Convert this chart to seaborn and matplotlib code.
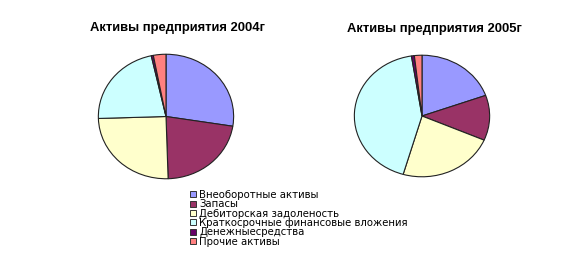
import matplotlib
matplotlib.use("Agg")
import matplotlib.pyplot as plt
import seaborn as sns

categories = ["Внеоборотные активы", "Запасы", "Дебиторская задоленость",
              "Краткосрочные финансовые вложения", "Денежныесредства", "Прочие активы"]
values_2004 = [27.5, 22.0, 25.0, 22.0, 0.5, 3.0]
values_2005 = [19.5, 12.0, 23.0, 43.0, 0.7, 1.8]
titles = ["Активы предприятия 2004г", "Активы предприятия 2005г"]
colors = ["#9999FF", "#993366", "#FFFFCC", "#CCFFFF", "#660066", "#FF8080"]

sns.set_theme(style="white")
plt.rcParams["font.family"] = ["DejaVu Sans"]
plt.rcParams["text.color"] = "black"

fig = plt.figure(figsize=(5.87, 2.65), dpi=100)
W, H = 587, 265

def px_axes(x0, y0, x1, y1):
    return fig.add_axes([x0 / W, (H - y1) / H, (x1 - x0) / W, (y1 - y0) / H])

ax1 = px_axes(97, 53, 235, 180)
ax2 = px_axes(353, 54, 491, 178)

wedges = None
for ax, vals in ((ax1, values_2004), (ax2, values_2005)):
    w, _ = ax.pie(vals, colors=colors, startangle=90, counterclock=False,
                  wedgeprops=dict(edgecolor="#222222", linewidth=0.8))
    ax.set_aspect("auto")
    ax.set_xlim(-1.02, 1.02)
    ax.set_ylim(-1.02, 1.02)
    ax.axis("off")
    if wedges is None:
        wedges = w

fig.text(177 / W, 1 - 28 / H, titles[0], ha="center", va="center", color="black",
         fontsize=9.4, fontweight="bold", family=["Liberation Sans", "DejaVu Sans"])
fig.text(434 / W, 1 - 29 / H, titles[1], ha="center", va="center", color="black",
         fontsize=9.4, fontweight="bold", family=["Liberation Sans", "DejaVu Sans"])

leg = fig.legend(wedges, categories, loc="upper left",
                 bbox_to_anchor=(190 / W, 1 - 190 / H),
                 frameon=False, fontsize=7.3, handlelength=0.55, handleheight=0.55,
                 handletextpad=0.35, labelspacing=-0.07, borderpad=0.0,
                 borderaxespad=0.0, labelcolor="black")
for h in leg.legend_handles:
    h.set_linewidth(0.7)
    h.set_edgecolor("#333333")

fig.savefig("out.png", dpi=100, facecolor="white")
